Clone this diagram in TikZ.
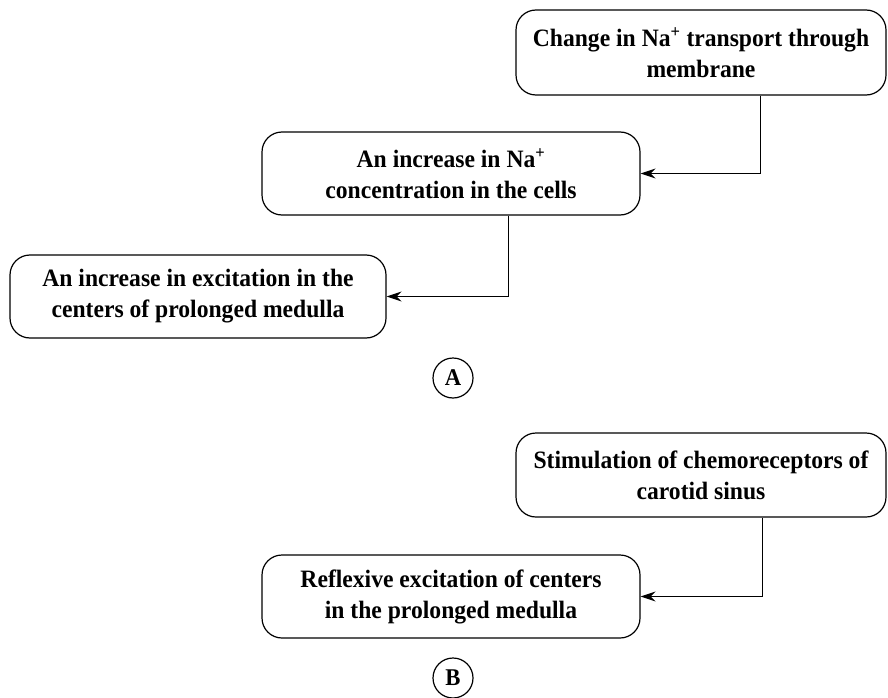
\documentclass[tikz,border=0pt]{standalone}
\usepackage{fontspec}
\setmainfont{Liberation Serif}[BoldFont={Liberation Serif Bold}, BoldFeatures={FakeStretch=0.945}]
\usetikzlibrary{arrows.meta}
\begin{document}
\begin{tikzpicture}[x=1pt,y=-1pt,
  stepbox/.style={draw, line width=1.2pt, rounded corners=20pt, align=center,
    font=\fontsize{25}{31}\selectfont\bfseries, inner sep=0pt},
  tag/.style={draw, circle, line width=1.2pt, minimum size=40pt, inner sep=0pt,
    font=\fontsize{24}{27}\selectfont\bfseries},
  arr/.style={line width=1pt, -{Stealth[length=15pt,width=10pt,inset=5pt]}}]
\useasboundingbox (0,0) rectangle (888,698);
% panel A
\node[stepbox, minimum width=370pt, minimum height=85pt] (b1) at (701,52.5)
  {Change in Na\textsuperscript{+} transport through\\membrane};
\node[stepbox, minimum width=378pt, minimum height=83pt] (b2) at (451,173.5)
  {An increase in Na\textsuperscript{+}\\concentration in the cells};
\node[stepbox, minimum width=376pt, minimum height=83pt] (b3) at (198,296.5)
  {An increase in excitation in the\\centers of prolonged medulla};
\node[tag] (ta) at (453,378) {A};
\draw[arr] ([xshift=59pt]b1.south) |- (b2.east);
\draw[arr] ([xshift=57pt]b2.south) |- (b3.east);
% panel B
\node[stepbox, minimum width=370pt, minimum height=84pt] (b4) at (701,475)
  {Stimulation of chemoreceptors of\\carotid sinus};
\node[stepbox, minimum width=378pt, minimum height=83pt] (b5) at (451,596.5)
  {Reflexive excitation of centers\\in the prolonged medulla};
\node[tag] (tb) at (453,678) {B};
\draw[arr] ([xshift=61pt]b4.south) |- (b5.east);
\end{tikzpicture}
\end{document}
